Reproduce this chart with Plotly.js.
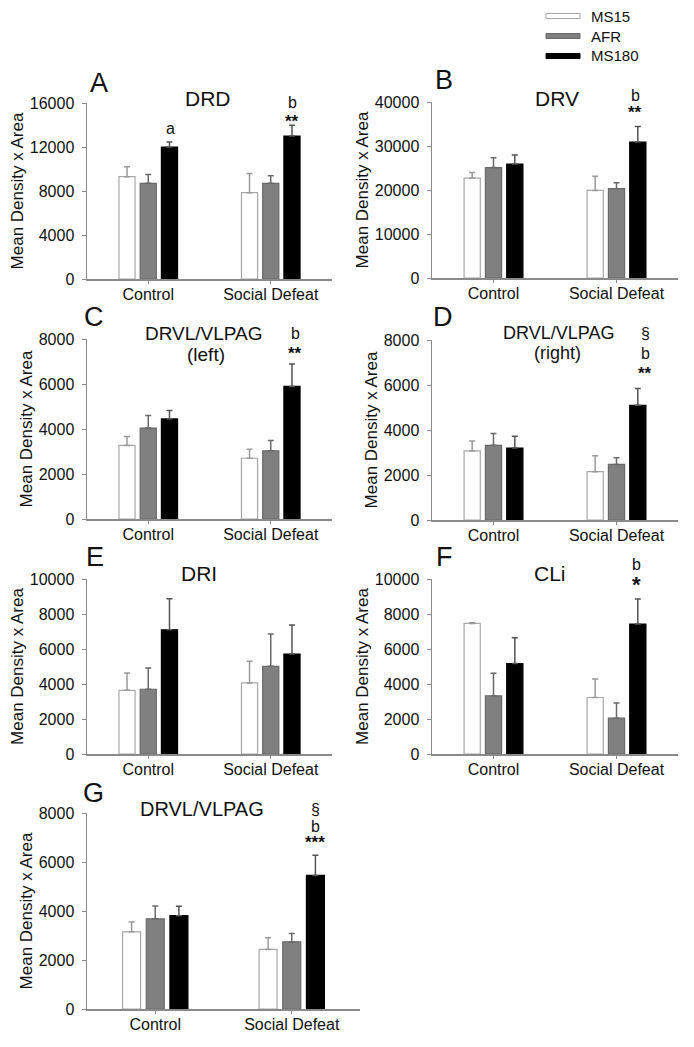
<!DOCTYPE html>
<html>
<head>
<meta charset="utf-8">
<script src="https://cdn.plot.ly/plotly-3.0.1.min.js"></script>
<style>html,body{margin:0;padding:0;background:#fff;}#chart{width:694px;height:1047px;}</style>
</head>
<body>
<div id="chart"></div>
<script>
const categories = ["Control", "Social Defeat"];
const seriesNames = ["MS15", "AFR", "MS180"];

// Panel A: DRD
const A_MS15 = [9300, 7850];   const A_MS15_err = [900, 1750];
const A_AFR = [8700, 8700];    const A_AFR_err = [800, 680];
const A_MS180 = [12000, 13000]; const A_MS180_err = [450, 970];
// Panel B: DRV
const B_MS15 = [22700, 19900]; const B_MS15_err = [1300, 3250];
const B_AFR = [25100, 20300];  const B_AFR_err = [2250, 1350];
const B_MS180 = [25900, 30900]; const B_MS180_err = [2050, 3550];
// Panel C: DRVL/VLPAG (left)
const C_MS15 = [3270, 2700];   const C_MS15_err = [400, 400];
const C_AFR = [4040, 3030];    const C_AFR_err = [560, 460];
const C_MS180 = [4450, 5890];  const C_MS180_err = [370, 1000];
// Panel D: DRVL/VLPAG (right)
const D_MS15 = [3070, 2150];   const D_MS15_err = [440, 710];
const D_AFR = [3320, 2470];    const D_AFR_err = [520, 300];
const D_MS180 = [3200, 5100];  const D_MS180_err = [520, 740];
// Panel E: DRI
const E_MS15 = [3640, 4060];   const E_MS15_err = [990, 1240];
const E_AFR = [3700, 5010];    const E_AFR_err = [1220, 1850];
const E_MS180 = [7100, 5710];  const E_MS180_err = [1770, 1660];
// Panel F: CLi
const F_MS15 = [7460, 3230];   const F_MS15_err = [40, 1050];
const F_AFR = [3330, 2050];    const F_AFR_err = [1290, 860];
const F_MS180 = [5170, 7430];  const F_MS180_err = [1480, 1430];
// Panel G: DRVL/VLPAG
const G_MS15 = [3150, 2430];   const G_MS15_err = [400, 480];
const G_AFR = [3680, 2740];    const G_AFR_err = [520, 340];
const G_MS180 = [3810, 5450];  const G_MS180_err = [380, 830];

const W = 694, H = 1047;
const FONT = "Liberation Sans, Arial, sans-serif";
const fills = ["#ffffff", "#808080", "#000000"];
const outlines = ["#a8a8a8", "#6a6a6a", "#000000"];
const errColors = ["#9a9a9a", "#6a6a6a", "#555555"];

const panels = [
  {key: "A", vals: [A_MS15, A_AFR, A_MS180], errs: [A_MS15_err, A_AFR_err, A_MS180_err], ymax: 16000, dtick: 4000, x0: 87, x1: 332, ytop: 103, ybot: 279},
  {key: "B", vals: [B_MS15, B_AFR, B_MS180], errs: [B_MS15_err, B_AFR_err, B_MS180_err], ymax: 40000, dtick: 10000, x0: 432, x1: 678, ytop: 102, ybot: 278},
  {key: "C", vals: [C_MS15, C_AFR, C_MS180], errs: [C_MS15_err, C_AFR_err, C_MS180_err], ymax: 8000, dtick: 2000, x0: 87, x1: 332, ytop: 339, ybot: 519},
  {key: "D", vals: [D_MS15, D_AFR, D_MS180], errs: [D_MS15_err, D_AFR_err, D_MS180_err], ymax: 8000, dtick: 2000, x0: 432, x1: 678, ytop: 340, ybot: 520},
  {key: "E", vals: [E_MS15, E_AFR, E_MS180], errs: [E_MS15_err, E_AFR_err, E_MS180_err], ymax: 10000, dtick: 2000, x0: 87, x1: 332, ytop: 579, ybot: 754},
  {key: "F", vals: [F_MS15, F_AFR, F_MS180], errs: [F_MS15_err, F_AFR_err, F_MS180_err], ymax: 10000, dtick: 2000, x0: 432, x1: 678, ytop: 579, ybot: 754},
  {key: "G", vals: [G_MS15, G_AFR, G_MS180], errs: [G_MS15_err, G_AFR_err, G_MS180_err], ymax: 8000, dtick: 2000, x0: 87, x1: 360, ytop: 813, ybot: 1009}
];

const px = x => x / W;
const py = y => 1 - y / H;

const data = [];
const layout = {
  width: W, height: H,
  margin: {l: 0, r: 0, t: 0, b: 0},
  paper_bgcolor: "#ffffff", plot_bgcolor: "#ffffff",
  font: {family: FONT, color: "#111111", size: 16},
  barmode: "group", bargap: 0.48, bargroupgap: 0.24,
  showlegend: false,
  annotations: [], shapes: []
};

panels.forEach((p, i) => {
  const n = i + 1;
  const xa = "x" + (n === 1 ? "" : n), ya = "y" + (n === 1 ? "" : n);
  const xk = "xaxis" + (n === 1 ? "" : n), yk = "yaxis" + (n === 1 ? "" : n);
  for (let s = 0; s < 3; s++) {
    data.push({
      type: "bar", x: categories, y: p.vals[s], name: seriesNames[s],
      xaxis: xa, yaxis: ya,
      marker: {color: fills[s], line: {color: outlines[s], width: 1.2}},
      error_y: {type: "data", array: p.errs[s], arrayminus: [0, 0], symmetric: false,
                color: errColors[s], thickness: 1.5, width: 3}
    });
  }
  layout[xk] = {
    domain: [px(p.x0), px(p.x1)], anchor: ya, range: [-0.5, 1.5],
    showline: true, linecolor: "#8a8a8a", linewidth: 1.5,
    ticks: "outside", ticklen: 3, tickcolor: "#8a8a8a", tickwidth: 1,
    showgrid: false, zeroline: false, fixedrange: true,
    tickfont: {family: FONT, size: 16, color: "#111"}, ticklabelstandoff: -3
  };
  layout[yk] = {
    domain: [py(p.ybot), py(p.ytop)], anchor: xa, range: [0, p.ymax],
    dtick: p.dtick, tick0: 0, tickformat: "d",
    showline: true, linecolor: "#8a8a8a", linewidth: 1.5,
    ticks: "outside", ticklen: 4, tickcolor: "#8a8a8a", tickwidth: 1,
    showgrid: false, zeroline: false, fixedrange: true,
    tickfont: {family: FONT, size: 16, color: "#111"},
    ticklabelstandoff: 4,
    title: {text: "Mean Density x Area", font: {family: FONT, size: 17, color: "#111"}, standoff: 2}
  };
});

function ann(text, x, y, size, extra) {
  layout.annotations.push(Object.assign({
    text: text, xref: "paper", yref: "paper", x: px(x), y: py(y),
    xanchor: "center", yanchor: "middle", showarrow: false,
    font: {family: FONT, size: size, color: "#111"}
  }, extra || {}));
}

// Panel letters
ann("A", 99, 83, 27); ann("B", 444, 80, 27); ann("C", 94, 317, 27);
ann("D", 443, 317, 27); ann("E", 95, 557, 27); ann("F", 444, 557, 27); ann("G", 93, 793, 27);
// Panel titles
ann("DRD", 208, 98, 21); ann("DRV", 557, 98, 21);
ann("DRVL/VLPAG", 204, 333, 19); ann("(left)", 206, 354, 19);
ann("DRVL/VLPAG", 558, 333, 18); ann("(right)", 557, 353, 18);
ann("DRI", 199, 573, 21); ann("CLi", 550, 573, 21);
ann("DRVL/VLPAG", 202, 809, 20);
// Significance marks
ann("a", 170, 129, 16); ann("b", 292, 102, 16); ann("<b>**</b>", 292, 122, 17);
ann("b", 635, 95, 16); ann("<b>**</b>", 635, 113, 17);
ann("b", 295, 334, 16); ann("<b>**</b>", 295, 353, 17);
ann("§", 645, 333, 16); ann("b", 645, 353, 16); ann("<b>**</b>", 645, 373, 17);
ann("b", 636, 564, 16); ann("<b>*</b>", 636, 584, 22);
ann("§", 315, 809, 16); ann("b", 315, 826, 16); ann("<b>***</b>", 315, 842, 17);

// Legend (drawn from series names)
const legY = [16, 36, 56];
seriesNames.forEach((nm, s) => {
  layout.shapes.push({type: "rect", xref: "paper", yref: "paper",
    x0: px(546), x1: px(580), y0: py(legY[s] + 2.5), y1: py(legY[s] - 2.5),
    fillcolor: fills[s], line: {color: outlines[s], width: 1}});
  ann(nm, 589, legY[s], 15, {xanchor: "left"});
});

Plotly.newPlot("chart", data, layout, {displayModeBar: false, staticPlot: true});
</script>
</body>
</html>
